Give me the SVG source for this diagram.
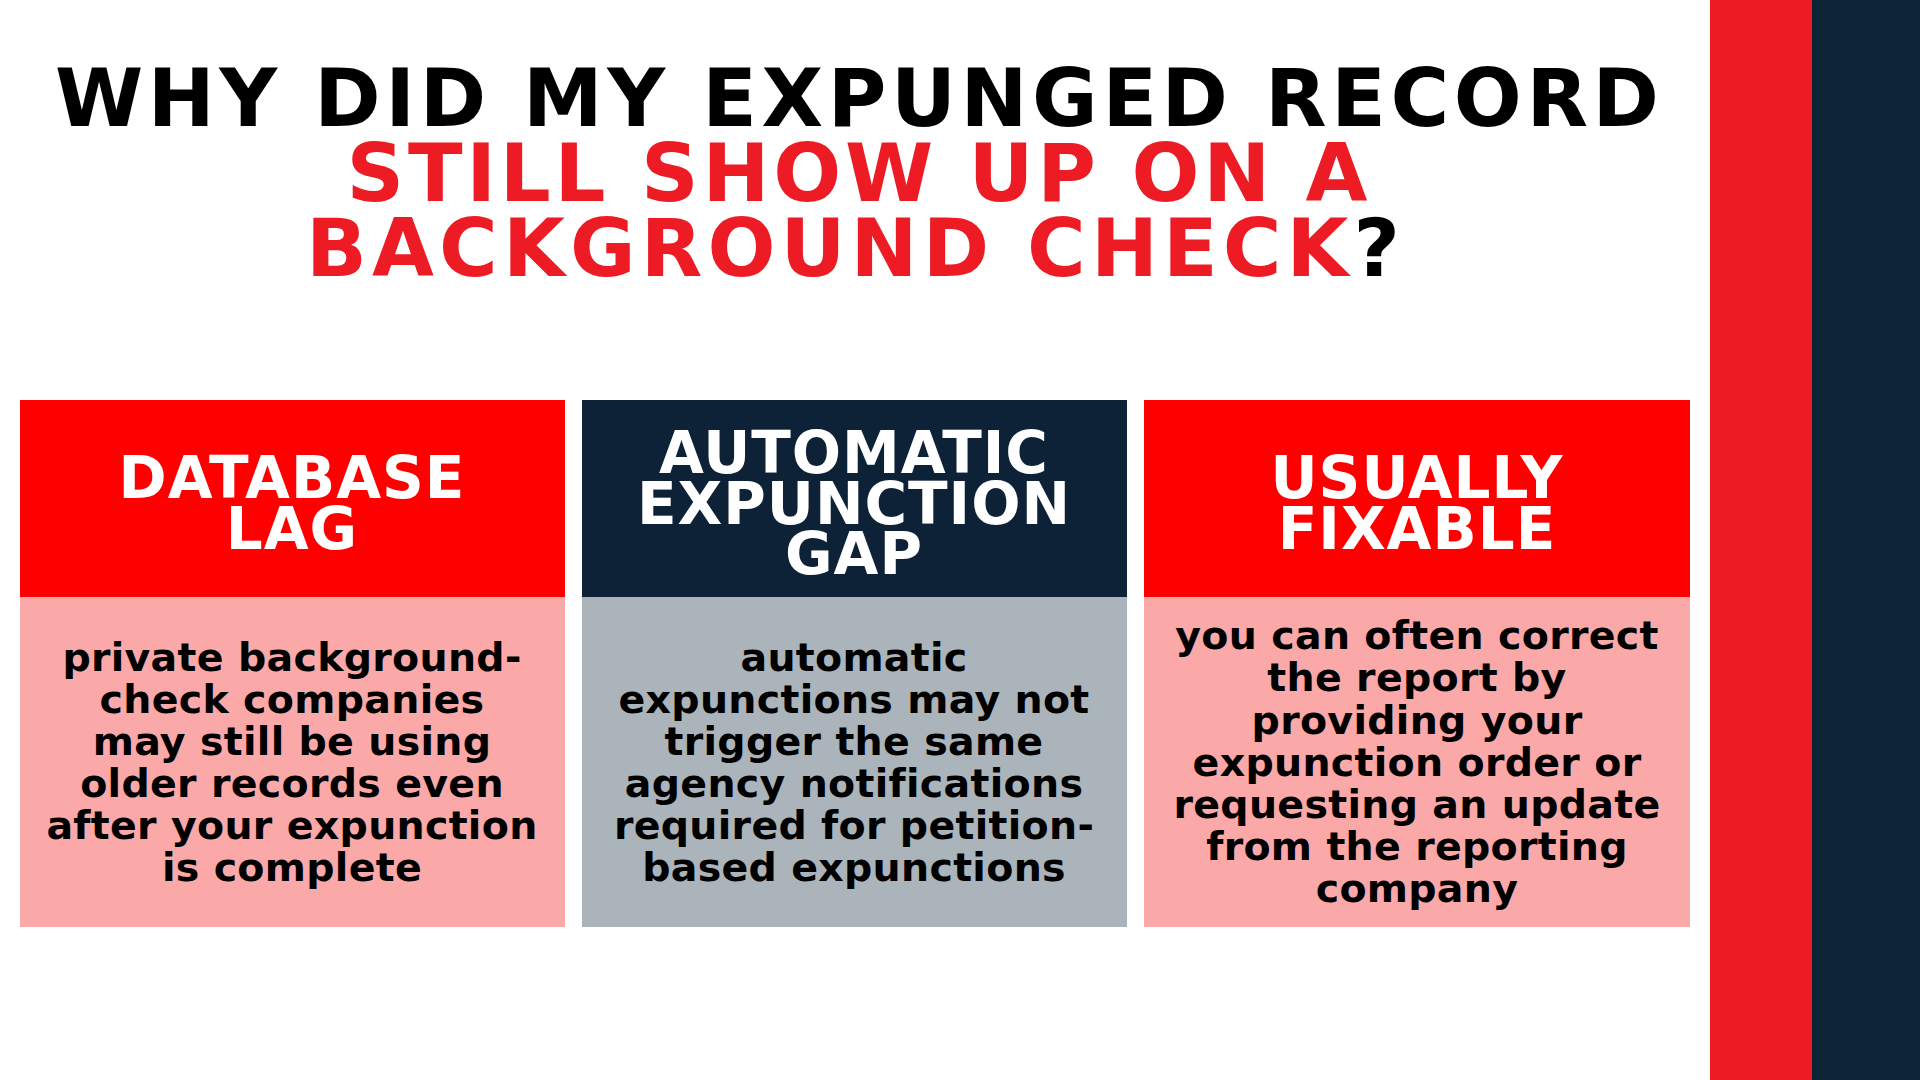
<svg xmlns="http://www.w3.org/2000/svg" width="1920" height="1080" viewBox="0 0 1920 1080">
<style>
.title{font-family:"DejaVu Sans",sans-serif;font-weight:bold;font-size:80px;text-anchor:middle}
.head{font-family:"DejaVu Sans",sans-serif;font-weight:bold;font-size:58px;letter-spacing:1px;fill:#ffffff;text-anchor:middle}
.body{font-family:"DejaVu Sans",sans-serif;font-weight:bold;font-size:39.5px;letter-spacing:0.3px;fill:#000000;text-anchor:middle}
.red{fill:#ED1C24}
.blk{fill:#000000}
</style>
<rect x="0" y="0" width="1920" height="1080" fill="#ffffff"/>
<g id="stripes">
<rect x="1710" y="0" width="103" height="1080" fill="#ED1C24"/>
<rect x="1812" y="0" width="108" height="1080" fill="#0D2336"/>
</g>
<g id="title">
<text class="title blk" x="857" y="126" textLength="1604" lengthAdjust="spacing">WHY DID MY EXPUNGED RECORD</text>
<text class="title red" x="857" y="201" textLength="1021" lengthAdjust="spacing">STILL SHOW UP ON A</text>
<text class="title" x="853" y="276" textLength="1094" lengthAdjust="spacing"><tspan class="red">BACKGROUND CHECK</tspan><tspan class="blk">?</tspan></text>
</g>
<g id="node-database-lag">
<rect x="20" y="400" width="545" height="197" fill="#FE0000"/>
<rect x="20" y="597" width="545" height="330" fill="#FBA8A8"/>
<text class="head" x="292" y="498">DATABASE</text>
<text class="head" x="292" y="549">LAG</text>
<text class="body" x="292" y="671">private background-</text>
<text class="body" x="292" y="713">check companies</text>
<text class="body" x="292" y="755">may still be using</text>
<text class="body" x="292" y="797">older records even</text>
<text class="body" x="292" y="839">after your expunction</text>
<text class="body" x="292" y="881">is complete</text>
</g>
<g id="node-automatic-expunction-gap">
<rect x="582" y="400" width="545" height="197" fill="#0D2236"/>
<rect x="582" y="597" width="545" height="330" fill="#ABB4BB"/>
<text class="head" x="854" y="473">AUTOMATIC</text>
<text class="head" x="854" y="524">EXPUNCTION</text>
<text class="head" x="854" y="574">GAP</text>
<text class="body" x="854" y="671">automatic</text>
<text class="body" x="854" y="713">expunctions may not</text>
<text class="body" x="854" y="755">trigger the same</text>
<text class="body" x="854" y="797">agency notifications</text>
<text class="body" x="854" y="839">required for petition-</text>
<text class="body" x="854" y="881">based expunctions</text>
</g>
<g id="node-usually-fixable">
<rect x="1144" y="400" width="546" height="197" fill="#FE0000"/>
<rect x="1144" y="597" width="546" height="330" fill="#FBA8A8"/>
<text class="head" x="1417" y="498">USUALLY</text>
<text class="head" x="1417" y="549">FIXABLE</text>
<text class="body" x="1417" y="649">you can often correct</text>
<text class="body" x="1417" y="691">the report by</text>
<text class="body" x="1417" y="734">providing your</text>
<text class="body" x="1417" y="776">expunction order or</text>
<text class="body" x="1417" y="818">requesting an update</text>
<text class="body" x="1417" y="860">from the reporting</text>
<text class="body" x="1417" y="902">company</text>
</g>
<g id="connectors"/>
</svg>
